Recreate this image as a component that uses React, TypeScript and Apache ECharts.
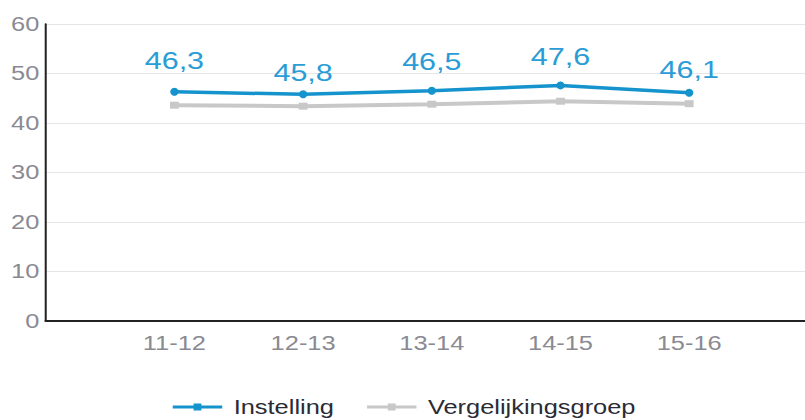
import React, { useEffect, useRef } from "react";
import * as echarts from "echarts";

const categories = ["11-12", "12-13", "13-14", "14-15", "15-16"];
const instelling = [46.3, 45.8, 46.5, 47.6, 46.1];
const vergelijkingsgroep = [43.6, 43.4, 43.8, 44.4, 43.9];
const seriesNames = ["Instelling", "Vergelijkingsgroep"];
const yMin = 0;
const yMax = 60;
const yInterval = 10;

// styling: vertical nudge of each value label (px), as placed in the reference
const labelNudge = [-3, 6, -1, -1, 5];

const S = 1.27; // horizontal stretch of the reference picture
const INNER_W = 650;
const FONT = "'Liberation Sans', Arial, sans-serif";
const LEGEND_ICON = "path://M0,3H16V1H22V3H38V6H22V8H16V6H0Z";

export default function App() {
  const ref = useRef<HTMLDivElement>(null);
  useEffect(() => {
    if (!ref.current) return;
    const chart = echarts.init(ref.current, undefined, { renderer: "svg" });
    const xData = ["", ...categories, ""];
    const pad = (arr: any[]) => ["-", ...arr, "-"] as any[];
    const instData = instelling.map((v, i) => ({
      value: v,
      label: { offset: [0, labelNudge[i]] },
    }));
    chart.setOption({
      animation: false,
      backgroundColor: "#ffffff",
      textStyle: { fontFamily: FONT },
      grid: { left: 36, right: 6, top: 24, bottom: 99 },
      legend: {
        left: 136,
        top: 397,
        padding: 0,
        itemWidth: 39,
        itemHeight: 8,
        itemGap: 26,
        icon: LEGEND_ICON,
        data: seriesNames,
        textStyle: { fontSize: 20, color: "#2b2b36", fontFamily: FONT, padding: [0, 0, 0, 4] },
      },
      xAxis: {
        type: "category",
        boundaryGap: false,
        data: xData,
        axisLine: { show: true, lineStyle: { color: "#222", width: 2 } },
        axisTick: { show: false },
        axisLabel: { interval: 0, fontSize: 20, color: "#8a8a92", margin: 12, fontFamily: FONT },
        splitLine: { show: false },
      },
      yAxis: {
        type: "value",
        min: yMin,
        max: yMax,
        interval: yInterval,
        axisLine: { show: true, lineStyle: { color: "#222", width: 1.6 } },
        axisTick: { show: false },
        axisLabel: { fontSize: 20, color: "#8a8a92", margin: 5, fontFamily: FONT },
        splitLine: { show: true, lineStyle: { color: "#e6e6e6", width: 1 } },
      },
      series: [
        {
          name: seriesNames[1],
          type: "line",
          data: pad(vergelijkingsgroep),
          symbol: "rect",
          symbolSize: [7, 7],
          showSymbol: true,
          lineStyle: { color: "#c8c8c8", width: 4 },
          itemStyle: { color: "#c8c8c8" },
          label: { show: false },
          z: 2,
        },
        {
          name: seriesNames[0],
          type: "line",
          data: pad(instData),
          symbol: "circle",
          symbolSize: [6.5, 8],
          showSymbol: true,
          lineStyle: { color: "#1593cc", width: 3.5 },
          itemStyle: { color: "#1593cc" },
          label: {
            show: true,
            position: "top",
            distance: 12,
            fontSize: 24,
            color: "#2a9cd6",
            fontFamily: FONT,
            formatter: (p: any) => Number(p.value).toFixed(1).replace(".", ","),
          },
          z: 3,
        },
      ],
    });
    return () => chart.dispose();
  }, []);
  return (
    <div
      style={{
        position: "fixed",
        left: 0,
        top: 0,
        width: 805,
        height: 420,
        overflow: "hidden",
        background: "#fff",
      }}
    >
      <div
        ref={ref}
        style={{
          width: INNER_W,
          height: 420,
          transform: `scaleX(${S})`,
          transformOrigin: "0 0",
        }}
      />
    </div>
  );
}
